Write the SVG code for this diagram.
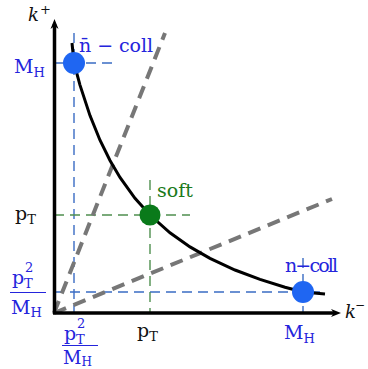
<svg xmlns="http://www.w3.org/2000/svg" width="368" height="369" viewBox="0 0 368 369">
<style>
.t{font-family:'DejaVu Serif','Liberation Serif',serif;}
.b{fill:#2424dc;}
.g{fill:#1b7a1b;}
.k{fill:#111;}
.bd{stroke:#3a6cc4;stroke-width:1.4;stroke-dasharray:10 6;fill:none;}
.gd{stroke:#4f8f4f;stroke-width:1.4;stroke-dasharray:10 6;fill:none;}
.gray{stroke:#777;stroke-width:4;stroke-dasharray:13 8;fill:none;}
</style>
<defs>
<marker id="ah" markerWidth="10" markerHeight="10" refX="5" refY="5" orient="auto" markerUnits="userSpaceOnUse">
<path d="M0,1 L10,5 L0,9 L3,5 Z" fill="#000"/>
</marker>
</defs>
<g id="connectors">
<path class="bd" d="M74,33 V313"/>
<path class="bd" d="M54,63 H112"/>
<path class="bd" d="M54,292 H325"/>
<path class="bd" d="M303,258 V313"/>
<path class="gd" d="M54,215 H190"/>
<path class="gd" d="M150,180 V313"/>
<path class="gray" d="M54,313 L165,33"/>
<path class="gray" d="M54,313 L332,199"/>
<polyline fill="none" stroke="#000" stroke-width="3" points="72,43 74,63 80,85.1 90,115.6 100,140.2 110,160.5 120,177.4 135,198.3 150,215 170,232.8 190,246.9 210,258.4 235,270 260,279.4 285,287.2 303,292 325,294"/>
<path d="M54.5,314 V24" stroke="#000" stroke-width="3.5" marker-end="url(#ah)"/>
<path d="M53,313 H336" stroke="#000" stroke-width="3.5" marker-end="url(#ah)"/>
</g>
<g id="axis-labels">
<text class="k t" x="28" y="21" font-size="18" font-style="italic">k</text>
<text class="k t" x="40" y="14" font-size="13">+</text>
<text class="k t" x="345" y="318" font-size="18" font-style="italic">k</text>
<text class="k t" x="355" y="309" font-size="12">−</text>
</g>
<g id="n-bar-coll">
<circle cx="74" cy="63" r="11" fill="#1f66f2"/>
<text class="b t" x="79" y="52" font-size="19" textLength="74">n̄ − coll</text>
</g>
<g id="soft">
<circle cx="150" cy="215" r="10.5" fill="#0a7a1a"/>
<text class="g t" x="157" y="197" font-size="19" textLength="36">soft</text>
</g>
<g id="n-coll">
<circle cx="303" cy="292" r="11" fill="#1f66f2"/>
<text class="b t" x="285" y="272" font-size="19" textLength="53">n−coll</text>
</g>
<g id="ticks">
<text class="b t" x="14" y="73" font-size="19">M<tspan font-size="13" dy="4">H</tspan></text>
<text class="k t" x="15" y="220" font-size="19">p<tspan font-size="13" dy="4">T</tspan></text>
<text class="b t" x="12" y="284" font-size="19">p</text>
<text class="b t" x="24" y="288" font-size="13">T</text>
<text class="b t" x="25" y="272" font-size="13">2</text>
<path d="M10,292.5 H46" stroke="#2424dc" stroke-width="1.2"/>
<text class="b t" x="11" y="314" font-size="19">M<tspan font-size="13" dy="3">H</tspan></text>
<text class="k t" x="137" y="337" font-size="19">p<tspan font-size="13" dy="4">T</tspan></text>
<text class="b t" x="284" y="339" font-size="19">M<tspan font-size="13" dy="4">H</tspan></text>
<text class="b t" x="64" y="340" font-size="19">p</text>
<text class="b t" x="76" y="344" font-size="13">T</text>
<text class="b t" x="77" y="328" font-size="13">2</text>
<path d="M62,345.5 H98" stroke="#2424dc" stroke-width="1.2"/>
<text class="b t" x="63" y="364" font-size="18">M<tspan font-size="12" dy="2">H</tspan></text>
</g>
</svg>
